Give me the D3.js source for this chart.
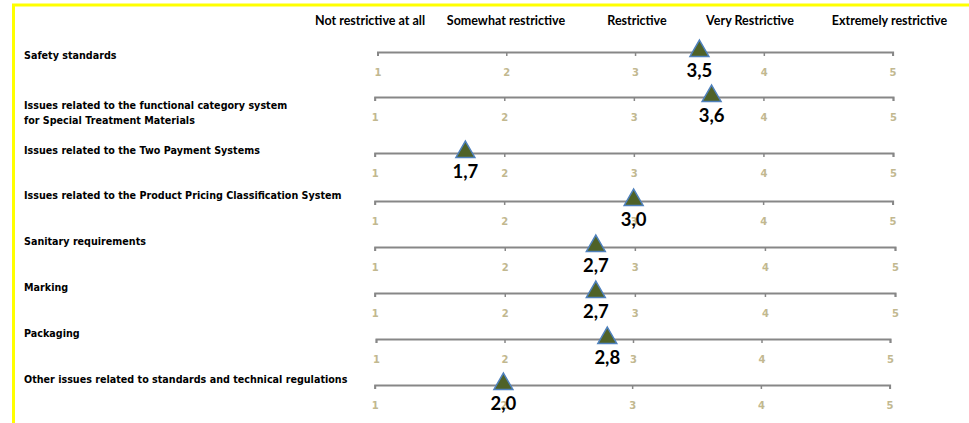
<!DOCTYPE html>
<html>
<head>
<meta charset="utf-8">
<script src="https://cdn.jsdelivr.net/npm/d3@7"></script>
<style>
  html, body { margin: 0; padding: 0; background: #fff; }
  svg { display: block; }
</style>
</head>
<body>
<svg id="chart" width="969" height="423"></svg>
<script>
// ---------- data ----------
const categories = [
  ["Safety standards"],
  ["Issues related to the functional category system", "for Special Treatment Materials"],
  ["Issues related to the Two Payment Systems"],
  ["Issues related to the Product Pricing Classification System"],
  ["Sanitary requirements"],
  ["Marking"],
  ["Packaging"],
  ["Other issues related to standards and technical regulations"]
];
const values = [3.5, 3.6, 1.7, 3.0, 2.7, 2.7, 2.8, 2.0];
const scaleLabels = ["Not restrictive at all", "Somewhat restrictive", "Restrictive", "Very Restrictive", "Extremely restrictive"];
const tickValues = [1, 2, 3, 4, 5];

// ---------- layout (positions only) ----------
const rowLineY  = [52, 97, 153, 201, 247, 293, 339, 385];
const rowLabelY = [55, 105, 150, 195, 241, 287, 333, 379];
const rowX0 = [377.5, 374.7, 374.7, 374.7, 374.7, 374.7, 376, 374.7];
const rowX1 = [892.6, 893, 893, 892.6, 895, 895, 890, 889.6];
const headerX = [370, 506, 637, 750, 889.5];

const svg = d3.select("#chart");
const fmt = d3.formatLocale({decimal: ",", thousands: ".", grouping: [3], currency: ["", ""]}).format(".1f");

// yellow frame
svg.append("path")
  .attr("d", "M13.5,423 V5 H969")
  .attr("fill", "none")
  .attr("stroke", "#FFFF00")
  .attr("stroke-width", 3);

// column headers
svg.append("g").selectAll("text")
  .data(scaleLabels)
  .join("text")
  .attr("x", (d, i) => headerX[i])
  .attr("y", 24.5)
  .attr("text-anchor", "middle")
  .attr("font-family", "Lato, 'Open Sans', sans-serif")
  .attr("font-weight", "bold")
  .attr("font-size", 12.5)
  .attr("fill", "#000")
  .text(d => d);

// rows
categories.forEach((lines, i) => {
  const g = svg.append("g");
  // category label
  const t = g.append("text")
    .attr("x", 24)
    .attr("y", rowLabelY[i] + 3.5)
    .attr("font-family", "'DejaVu Sans', Verdana, sans-serif")
    .attr("font-weight", "bold")
    .attr("font-size", 9.6)
    .attr("fill", "#000");
  lines.forEach((ln, j) => {
    t.append("tspan").attr("x", 24).attr("dy", j === 0 ? 0 : 15).text(ln);
  });

  const x = d3.scaleLinear().domain([1, 5]).range([rowX0[i], rowX1[i]]);
  const axis = d3.axisBottom(x)
    .tickValues(tickValues)
    .tickSize(4)
    .tickSizeOuter(4)
    .tickPadding(12.5)
    .tickFormat(d3.format("d"));
  const ag = g.append("g")
    .attr("transform", `translate(0,${rowLineY[i]})`)
    .call(axis);
  ag.select(".domain").attr("stroke", "#878787").attr("stroke-width", 2);
  ag.selectAll(".tick line").attr("stroke", "#878787").attr("stroke-width", 1.5);
  ag.selectAll(".tick text")
    .attr("fill", "#C2B88F")
    .attr("font-family", "'DejaVu Sans', Verdana, sans-serif")
    .attr("font-weight", "bold")
    .attr("font-size", 10);

  // marker
  g.append("path")
    .attr("d", d3.symbol().type(d3.symbolTriangle).size(155)())
    .attr("transform", `translate(${x(values[i])},${rowLineY[i] - 1})`)
    .attr("fill", "#4F6228")
    .attr("stroke", "#4F81BD")
    .attr("stroke-width", 1.5);

  // value label
  g.append("text")
    .attr("x", x(values[i]))
    .attr("y", rowLineY[i] + 25)
    .attr("text-anchor", "middle")
    .attr("font-family", "Lato, 'Open Sans', sans-serif")
    .attr("font-weight", "bold")
    .attr("font-size", 18.5)
    .attr("fill", "#000")
    .text(fmt(values[i]));
});
</script>
</body>
</html>
